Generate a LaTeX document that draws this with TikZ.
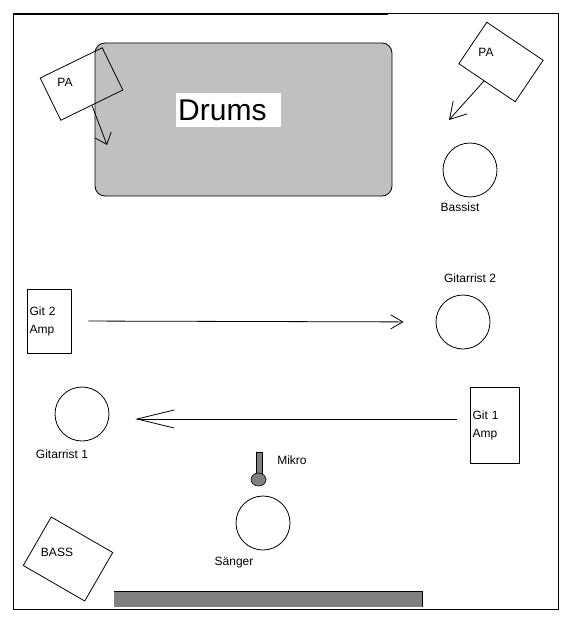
\documentclass[tikz,border=0pt]{standalone}
\usepackage{fontspec}
\setmainfont{Liberation Sans}
\usetikzlibrary{arrows.meta, shapes.geometric}

\definecolor{drumgray}{RGB}{192,192,192}
\definecolor{darkgray}{RGB}{128,128,128}

\tikzset{
  every node/.style={font=\fontsize{12}{18}\selectfont, inner sep=0pt},
  person/.style={circle, draw, line width=0.8pt, minimum size=54pt},
  speaker/.style={rectangle, draw, line width=0.8pt},
  ampbox/.style={rectangle, draw, line width=0.8pt, align=left, inner xsep=2.5pt},
  barb/.style 2 args={line width=0.8pt, -{Straight Barb[length=#1pt, width=#2pt]}}
}

\begin{document}
\begin{tikzpicture}[x=1pt, y=-1pt]
    \useasboundingbox (0,0) rectangle (573,623);

    % Stage frame
    \draw[line width=0.8pt] (13,13) rectangle (558,609);
    \draw[line width=2pt] (13,14) -- (388,14);

    % Drums
    \node[rectangle, draw, fill=drumgray, rounded corners=10pt, line width=0.8pt,
          minimum width=297pt, minimum height=153pt] (drums) at (243.5,119.5) {};
    \node[fill=white, anchor=west, text width=101pt, inner xsep=2pt, minimum height=34pt,
          font=\fontsize{30}{30}\selectfont] (drumstext) at (176,110) {Drums};

    % PA links
    \node[speaker, minimum width=69pt, minimum height=47pt, rotate=26] (paL) at (81.5,84) {};
    \node (paLtext) at (65,82) {PA};
    \coordinate (paLtip) at (107,145);
    \draw[barb={10}{17}] (paL.south) -- (paLtip);

    % PA rechts
    \node[speaker, minimum width=68pt, minimum height=50pt, rotate=-34] (paR) at (501,62) {};
    \node (paRtext) at (486,52) {PA};
    \coordinate (paRtip) at (449,120);
    \draw[barb={16}{19}] (paR) -- (paRtip);

    % Bassist
    \node[person] (bassist) at (470,170) {};
    \node (bassistlbl) at (460,207) {Bassist};

    % Gitarrist 2 und Amp
    \node[person] (gtr2) at (463,322) {};
    \node (gtr2lbl) at (470,278) {Gitarrist 2};
    \node[ampbox, text width=39pt, minimum height=64pt] (git2amp) at (49,321) {Git 2\\Amp};
    \draw[barb={12}{14}, shorten <=17pt, shorten >=32pt] (git2amp.east) -- (gtr2.west);

    % Gitarrist 1 und Amp
    \node[person] (gtr1) at (82,414) {};
    \node (gtr1lbl) at (62,454) {Gitarrist 1};
    \node[ampbox, text width=44pt, minimum height=76pt] (git1amp) at (494.5,425) {Git 1\\Amp};
    \draw[barb={37}{18}, shorten <=13pt, shorten >=26pt]
        ([yshift=6pt]git1amp.west) -- ([yshift=-5pt]gtr1.east);

    % Mikro
    \node[rectangle, draw, fill=darkgray, line width=0.6pt,
          minimum width=6pt, minimum height=21pt] (mikrostand) at (259,462.5) {};
    \node[ellipse, draw, fill=darkgray, line width=0.6pt,
          minimum width=15pt, minimum height=13pt] (mikrokopf) at (258.5,479.5) {};
    \node (mikrolbl) at (292,460) {Mikro};

    % Saenger
    \node[person] (saenger) at (263,523) {};
    \node (saengerlbl) at (234,563) {Sänger};

    % Bass Amp
    \node[speaker, minimum width=71pt, minimum height=56pt, rotate=-30] (bassamp) at (68,559) {};
    \node (bassamplbl) at (57,552) {BASS};

    % Buehnenrand
    \fill[darkgray] (114,591) rectangle (422,607);
    \draw[line width=0.8pt] (114,591) -- (422,591) -- (422,607);
\end{tikzpicture}
\end{document}
